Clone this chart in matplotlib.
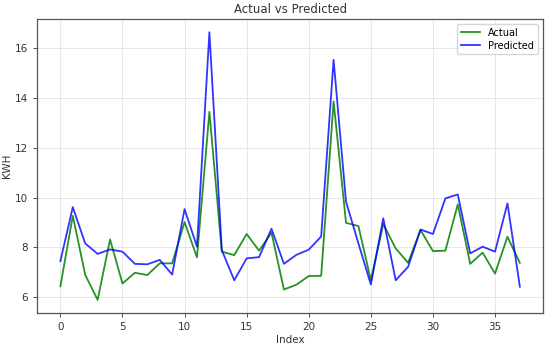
import matplotlib
matplotlib.use("Agg")
import matplotlib.pyplot as plt

# values
actual = [6.44, 9.27, 6.90, 5.89, 8.32, 6.55, 6.98, 6.89, 7.36, 7.36,
          9.02, 7.60, 13.45, 7.83, 7.69, 8.54, 7.87, 8.59, 6.31, 6.50,
          6.85, 6.86, 13.87, 8.99, 8.86, 6.68, 8.94, 7.96, 7.38, 8.70,
          7.85, 7.87, 9.73, 7.34, 7.79, 6.95, 8.43, 7.38]
predicted = [7.45, 9.62, 8.16, 7.74, 7.92, 7.83, 7.34, 7.32, 7.50, 6.91,
             9.54, 8.03, 16.65, 7.89, 6.68, 7.56, 7.61, 8.75, 7.34, 7.70,
             7.91, 8.44, 15.54, 9.84, 8.16, 6.51, 9.17, 6.68, 7.22, 8.72,
             8.54, 9.97, 10.13, 7.76, 8.03, 7.83, 9.77, 6.42]
index = list(range(len(actual)))

fig = plt.figure(figsize=(5.5, 3.46), dpi=100)
ax = fig.add_axes([0.068, 0.0945, 0.919, 0.851])

ax.plot(index, actual, color="green", lw=1.3, alpha=0.85, label="Actual")
ax.plot(index, predicted, color="blue", lw=1.3, alpha=0.8, label="Predicted")

ax.set_title("Actual vs Predicted", fontsize=8.5, color="#333333", pad=4)
ax.set_xlabel("Index", fontsize=7.5, color="#333333", labelpad=2)
ax.set_ylabel("KWH", fontsize=7.5, color="#333333", labelpad=2)
ax.tick_params(labelsize=7.5, colors="#333333", length=3, width=0.6)
ax.grid(True, color="#e3e3e3", lw=0.6)
for s in ax.spines.values():
    s.set_color("#555555")
    s.set_linewidth(0.9)
ax.legend(loc="upper right", fontsize=7, handlelength=2.0, borderpad=0.4,
          labelspacing=0.3)

plt.savefig("out.png", dpi=100)
